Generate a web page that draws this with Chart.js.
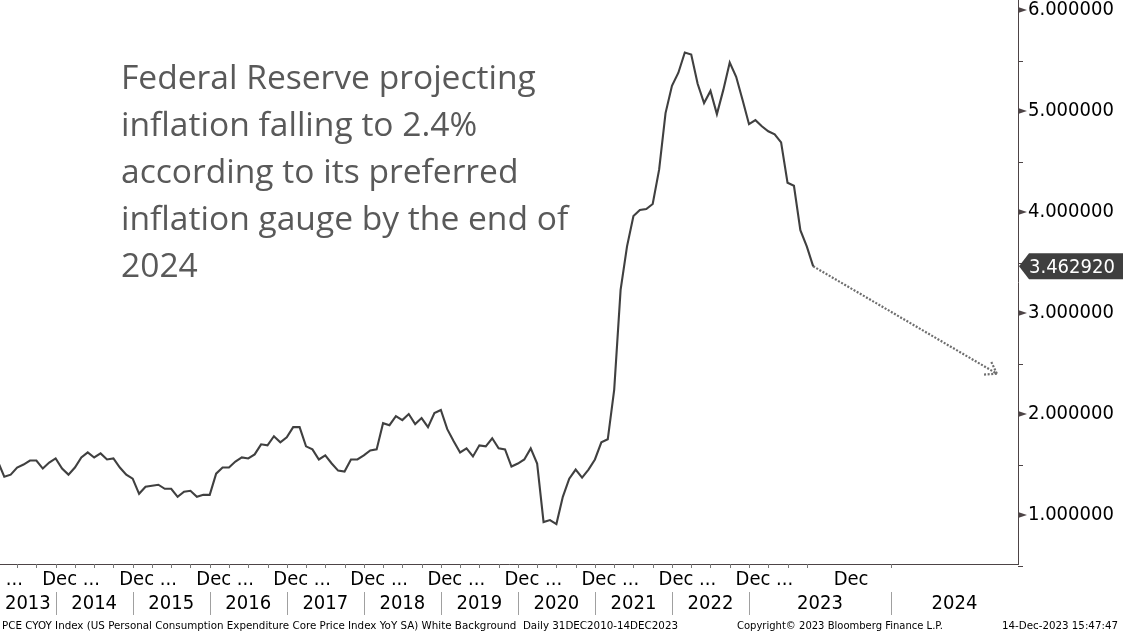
<!DOCTYPE html>
<html>
<head>
<meta charset="utf-8">
<title>PCE CYOY Index</title>
<script src="https://cdn.jsdelivr.net/npm/chart.js@4.4.1/dist/chart.umd.min.js"></script>
<style>
  html, body { margin: 0; padding: 0; background: #fff; }
  #wrap { width: 1123px; height: 634px; position: relative; }
</style>
</head>
<body>
<div id="wrap"><canvas id="chart"></canvas></div>
<script>
// US core PCE YoY (%), one print per month, Jan 2013 .. Oct 2023
const pce2013 = [1.61, 1.57, 1.53, 1.38, 1.40, 1.47, 1.50, 1.54, 1.54, 1.46, 1.52, 1.56];
const pce2014 = [1.46, 1.40, 1.47, 1.57, 1.62, 1.57, 1.61, 1.55, 1.56, 1.47, 1.40, 1.36];
const pce2015 = [1.21, 1.28, 1.29, 1.30, 1.26, 1.26, 1.18, 1.23, 1.24, 1.18, 1.20, 1.20];
const pce2016 = [1.41, 1.47, 1.47, 1.53, 1.57, 1.56, 1.60, 1.70, 1.69, 1.78, 1.72, 1.77];
const pce2017 = [1.87, 1.87, 1.68, 1.65, 1.55, 1.59, 1.51, 1.44, 1.43, 1.55, 1.55, 1.59];
const pce2018 = [1.64, 1.65, 1.91, 1.89, 1.98, 1.94, 2.00, 1.90, 1.96, 1.87, 2.01, 2.04];
const pce2019 = [1.85, 1.73, 1.62, 1.66, 1.58, 1.69, 1.68, 1.76, 1.66, 1.65, 1.48, 1.51];
const pce2020 = [1.55, 1.66, 1.51, 0.93, 0.95, 0.91, 1.18, 1.36, 1.45, 1.37, 1.45, 1.55];
const pce2021 = [1.72, 1.75, 2.24, 3.23, 3.66, 3.96, 4.02, 4.03, 4.08, 4.42, 4.98, 5.25];
const pce2022 = [5.38, 5.58, 5.56, 5.27, 5.08, 5.20, 4.97, 5.21, 5.48, 5.34, 5.11, 4.87];
const pce2023 = [4.91, 4.85, 4.80, 4.77, 4.69, 4.29, 4.26, 3.82, 3.66, 3.46292];

// Fed projection: last print -> 2.4% at end of 2024
const projectionValues = [3.46292, 2.4];
const projectionMonths = [130, 158.6];

// x axis = months since Jan 2013, a print sits at its month end
const yearLabels = ['2013', '2014', '2015', '2016', '2017', '2018', '2019', '2020', '2021', '2022', '2023', '2024'];
// bloomberg stretches the future part, so the 2024 break is not at 132
const yearBreaks = [12, 24, 36, 48, 60, 72, 84, 96, 108, 120, 142.1];
const decLabels = ['Dec ...', 'Dec ...', 'Dec ...', 'Dec ...', 'Dec ...', 'Dec ...', 'Dec ...', 'Dec ...', 'Dec ...', 'Dec ...', 'Dec ...', 'Dec'];
const decLabelMonths = [2.4, 14.4, 26.4, 38.4, 50.4, 62.4, 74.4, 86.4, 98.4, 110.4, 122.4, 135.9];
const yTickValues = [1, 2, 3, 4, 5, 6];

const xMin = 3.333;
const xMax = 161.9;

const noteLines = [
  'Federal Reserve projecting',
  'inflation falling to 2.4%',
  'according to its preferred',
  'inflation gauge by the end of',
  '2024'
];
const footerLeft = 'PCE CYOY Index (US Personal Consumption Expenditure Core Price Index YoY SA) White Background  Daily 31DEC2010-14DEC2023';
const footerMid = 'Copyright\u00A9 2023 Bloomberg Finance L.P.';
const footerRight = '14-Dec-2023 15:47:47';

const pceValues = [].concat(pce2013, pce2014, pce2015, pce2016, pce2017, pce2018,
  pce2019, pce2020, pce2021, pce2022, pce2023);
const pcePoints = pceValues.map((v, i) => ({ x: i + 1, y: v }));
const projectionPoints = projectionValues.map((v, i) => ({ x: projectionMonths[i], y: v }));

const axisFamily = '"DejaVu Sans Condensed", "DejaVu Sans"';
const axisFont = '20px ' + axisFamily;
const axisColor = '#4d4446';

// everything bloomberg draws around the plot: frame, time axis, tags, note
const bloombergDecor = {
  id: 'bloombergDecor',
  afterDraw(chart) {
    const { ctx, chartArea, scales } = chart;
    const xs = scales.x;
    const ys = scales.y;
    const bottom = chartArea.bottom;
    ctx.save();

    // bottom frame line
    ctx.strokeStyle = axisColor;
    ctx.lineWidth = 1;
    ctx.beginPath();
    ctx.moveTo(chartArea.left, bottom + 0.5);
    ctx.lineTo(chartArea.right + 0.5, bottom + 0.5);
    ctx.stroke();

    // quarterly ticks
    ctx.strokeStyle = '#777';
    const quarterTicks = [];
    for (let m = 3; m <= 129; m += 3) quarterTicks.push(m);
    quarterTicks.push(yearBreaks[yearBreaks.length - 1]);
    quarterTicks.forEach((m) => {
      const px = Math.round(xs.getPixelForValue(m)) + 0.5;
      ctx.beginPath();
      ctx.moveTo(px, bottom);
      ctx.lineTo(px, bottom + 4);
      ctx.stroke();
    });

    // year separators
    ctx.strokeStyle = '#a0a0a0';
    yearBreaks.forEach((m) => {
      const px = Math.round(xs.getPixelForValue(m)) + 0.5;
      ctx.beginPath();
      ctx.moveTo(px, bottom + 28);
      ctx.lineTo(px, bottom + 51);
      ctx.stroke();
    });

    ctx.fillStyle = '#000';
    ctx.font = axisFont;
    ctx.textAlign = 'center';
    ctx.textBaseline = 'middle';
    decLabels.forEach((t, i) => {
      ctx.fillText(t, xs.getPixelForValue(decLabelMonths[i]), bottom + 16);
    });
    const bounds = [xMin].concat(yearBreaks, [xMax]);
    yearLabels.forEach((t, i) => {
      const a = xs.getPixelForValue(bounds[i]);
      const b = xs.getPixelForValue(bounds[i + 1]);
      ctx.fillText(t, (a + b) / 2, bottom + 40);
    });

    // y axis: arrow marks on whole numbers, plain ticks on halves
    const ax = chartArea.right;
    ctx.fillStyle = axisColor;
    ctx.strokeStyle = axisColor;
    yTickValues.forEach((v) => {
      const py = ys.getPixelForValue(v);
      ctx.beginPath();
      ctx.moveTo(ax, py - 3);
      ctx.lineTo(ax + 9, py);
      ctx.lineTo(ax, py + 3);
      ctx.closePath();
      ctx.fill();
      const ph = Math.round(ys.getPixelForValue(v - 0.5)) + 0.5;
      ctx.beginPath();
      ctx.moveTo(ax, ph);
      ctx.lineTo(ax + 5, ph);
      ctx.stroke();
    });

    // last value tag
    const last = pceValues[pceValues.length - 1];
    const ly = ys.getPixelForValue(last);
    ctx.fillStyle = '#3f3f3f';
    ctx.beginPath();
    ctx.moveTo(ax + 1, ly);
    ctx.lineTo(ax + 11, ly - 13);
    ctx.lineTo(chart.width, ly - 13);
    ctx.lineTo(chart.width, ly + 13);
    ctx.lineTo(ax + 11, ly + 13);
    ctx.closePath();
    ctx.fill();
    ctx.fillStyle = '#fff';
    ctx.textAlign = 'left';
    ctx.fillText(last.toFixed(6), ax + 11, ly + 1);

    // arrow head on the projection
    const tx = xs.getPixelForValue(projectionMonths[1]);
    const ty = ys.getPixelForValue(projectionValues[1]);
    const sx = xs.getPixelForValue(projectionMonths[0]);
    const sy = ys.getPixelForValue(projectionValues[0]);
    const ang = Math.atan2(ty - sy, tx - sx);
    ctx.strokeStyle = '#6e6e6e';
    ctx.lineWidth = 2.2;
    ctx.setLineDash([2, 1.6]);
    [-0.6, 0.6].forEach((d) => {
      ctx.beginPath();
      ctx.moveTo(tx, ty);
      ctx.lineTo(tx - 13 * Math.cos(ang + d), ty - 13 * Math.sin(ang + d));
      ctx.stroke();
    });
    ctx.setLineDash([]);

    // note
    ctx.fillStyle = '#595959';
    ctx.font = '33.6px "Open Sans"';
    ctx.textBaseline = 'alphabetic';
    noteLines.forEach((t, i) => {
      ctx.fillText(t, 121, 89 + i * 47);
    });

    // footer
    ctx.fillStyle = '#000';
    ctx.font = '11px "DejaVu Sans"';
    ctx.textBaseline = 'middle';
    ctx.fillText(footerLeft, 2, 626, 676);
    ctx.fillText(footerMid, 737, 626, 206);
    ctx.textAlign = 'right';
    ctx.fillText(footerRight, 1118, 626, 116);

    ctx.restore();
  }
};

new Chart(document.getElementById('chart'), {
  type: 'line',
  data: {
    datasets: [
      {
        data: pcePoints,
        borderColor: '#404040',
        borderWidth: 2.1,
        pointRadius: 0,
        tension: 0
      },
      {
        data: projectionPoints,
        borderColor: '#6e6e6e',
        borderWidth: 2.2,
        borderDash: [2, 1.6],
        pointRadius: 0,
        tension: 0
      }
    ]
  },
  options: {
    responsive: true,
    maintainAspectRatio: false,
    animation: false,
    events: [],
    layout: { padding: { top: 0, left: 0, right: 0, bottom: 70 } },
    scales: {
      x: {
        type: 'linear',
        min: xMin,
        max: xMax,
        display: false
      },
      y: {
        position: 'right',
        min: 0.515,
        max: 6.1,
        afterBuildTicks: (scale) => {
          scale.ticks = yTickValues.map((v) => ({ value: v }));
        },
        afterFit: (scale) => {
          scale.width = 105;
          scale.paddingTop = 0;
          scale.paddingBottom = 0;
        },
        grid: { display: false, drawTicks: false },
        border: { display: true, color: axisColor, width: 1 },
        ticks: {
          padding: 10,
          color: '#000',
          font: { family: axisFamily, size: 20 },
          callback: (v) => Number(v).toFixed(6)
        }
      }
    },
    plugins: {
      legend: { display: false },
      tooltip: { enabled: false }
    }
  },
  plugins: [bloombergDecor]
});
</script>
</body>
</html>
